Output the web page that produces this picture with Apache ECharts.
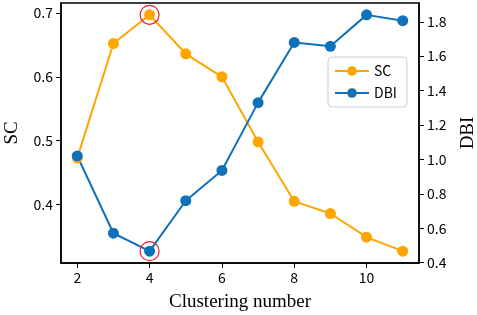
<!DOCTYPE html>
<html>
<head>
<meta charset="utf-8">
<script src="https://cdn.jsdelivr.net/npm/echarts@6/dist/echarts.min.js"></script>
<style>
  html, body { margin: 0; padding: 0; background: #fff; }
  #chart { width: 477px; height: 315px; }
</style>
</head>
<body>
<div id="chart"></div>
<script>
// data
var clusterNums = [2, 3, 4, 5, 6, 7, 8, 9, 10, 11];
var scValues = [0.473, 0.652, 0.697, 0.636, 0.600, 0.498, 0.405, 0.386, 0.349, 0.327];
var dbiValues = [1.02, 0.571, 0.467, 0.76, 0.936, 1.33, 1.68, 1.657, 1.84, 1.806];
var xTicks = [2, 4, 6, 8, 10];
var scTicks = [0.4, 0.5, 0.6, 0.7];
var dbiTicks = [0.4, 0.6, 0.8, 1.0, 1.2, 1.4, 1.6, 1.8];

var tickFont = 'Noto Sans CJK SC';
var nameFont = 'Liberation Serif';
var orange = '#ffa500';
var blue = '#0f72b9';

function pairs(xs, ys) {
  return xs.map(function (x, i) { return [x, ys[i]]; });
}

var chart = echarts.init(document.getElementById('chart'));
chart.setOption({
  animation: false,
  grid: {
    left: 61, right: 58, top: 3, bottom: 52,
    outerBoundsMode: 'none', containLabel: false,
    show: true, borderColor: '#000', borderWidth: 1.5
  },
  legend: {
    left: 328, top: 57,
    orient: 'vertical',
    itemWidth: 34, itemHeight: 12, itemGap: 8,
    padding: [7, 10, 7, 6],
    borderColor: '#ccc', borderWidth: 1, borderRadius: 4,
    textStyle: { fontFamily: tickFont, fontSize: 14, color: '#000' },
    data: ['SC', 'DBI']
  },
  xAxis: {
    type: 'value', min: 1.55, max: 11.45,
    name: 'Clustering number', nameLocation: 'middle', nameGap: 30,
    nameTextStyle: { fontFamily: nameFont, fontSize: 19, color: '#000' },
    axisLine: { lineStyle: { color: '#000', width: 1.5 } },
    axisTick: { show: true, length: 5, lineStyle: { color: '#000' }, customValues: xTicks },
    axisLabel: { customValues: xTicks, fontFamily: tickFont, fontSize: 14, color: '#000', margin: 8 },
    splitLine: { show: false }
  },
  yAxis: [{
    type: 'value', min: 0.3085, max: 0.7155, position: 'left',
    name: 'SC', nameLocation: 'middle', nameGap: 39,
    nameTextStyle: { fontFamily: nameFont, fontSize: 19, color: '#000' },
    axisLine: { show: true, lineStyle: { color: '#000', width: 1.5 } },
    axisTick: { show: true, length: 5, lineStyle: { color: '#000' }, customValues: scTicks },
    axisLabel: {
      customValues: scTicks, fontFamily: tickFont, fontSize: 14, color: '#000', margin: 8,
      formatter: function (v) { return v.toFixed(1); }
    },
    splitLine: { show: false }
  }, {
    type: 'value', min: 0.398, max: 1.909, position: 'right',
    name: 'DBI', nameLocation: 'middle', nameGap: 40,
    nameTextStyle: { fontFamily: nameFont, fontSize: 19, color: '#000' },
    axisLine: { show: true, lineStyle: { color: '#000', width: 1.5 } },
    axisTick: { show: true, length: 5, lineStyle: { color: '#000' }, customValues: dbiTicks },
    axisLabel: {
      customValues: dbiTicks, fontFamily: tickFont, fontSize: 14, color: '#000', margin: 8,
      formatter: function (v) { return v.toFixed(1); }
    },
    splitLine: { show: false }
  }],
  series: [{
    name: 'SC', type: 'line', yAxisIndex: 0,
    data: pairs(clusterNums, scValues),
    symbol: 'circle', symbolSize: 11,
    lineStyle: { color: orange, width: 2 },
    itemStyle: { color: orange },
    markPoint: {
      symbol: 'circle', symbolSize: 19,
      label: { show: false },
      itemStyle: { color: 'rgba(0,0,0,0)', borderColor: '#e8202a', borderWidth: 1.2 },
      data: [{ type: 'max' }]
    }
  }, {
    name: 'DBI', type: 'line', yAxisIndex: 1,
    data: pairs(clusterNums, dbiValues),
    symbol: 'circle', symbolSize: 11,
    lineStyle: { color: blue, width: 2 },
    itemStyle: { color: blue },
    markPoint: {
      symbol: 'circle', symbolSize: 19,
      label: { show: false },
      itemStyle: { color: 'rgba(0,0,0,0)', borderColor: '#e8202a', borderWidth: 1.2 },
      data: [{ type: 'min' }]
    }
  }]
});
</script>
</body>
</html>
